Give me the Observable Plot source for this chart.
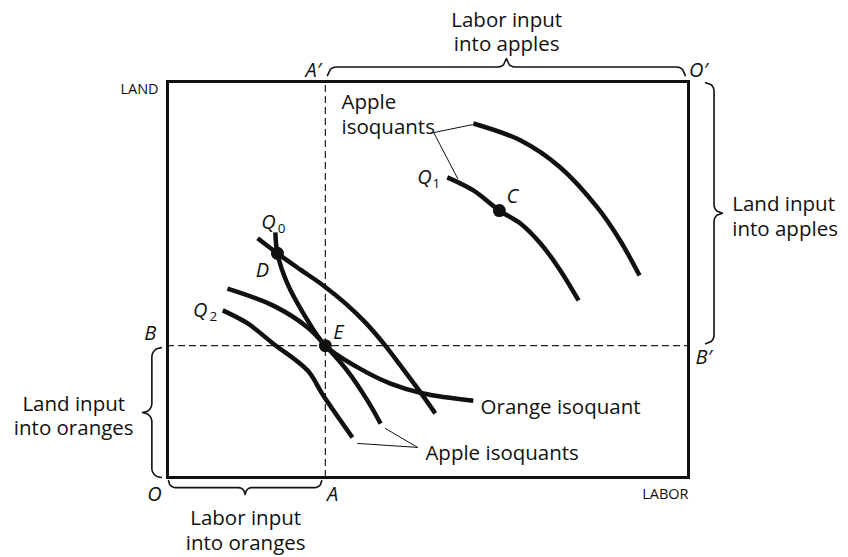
<!DOCTYPE html>
<html><head><meta charset="utf-8">
<script src="https://cdn.jsdelivr.net/npm/d3@7"></script>
<script src="https://cdn.jsdelivr.net/npm/@observablehq/plot@0.6"></script>
<style>body{margin:0;background:#fff}</style>
</head><body><div id="chart"></div>
<script>
// ---- data (labor on x, land on y, Edgeworth box 0..100 each) ----
const totalLabor = 100;
const totalLand = 100;
const laborOranges = 30.3;   // point A / E
const landOranges = 33.3;    // point B / E

const orangeIsoquant = [[20.7,61.9],[21.1,56.6],[23.0,49.0],[26.1,41.4],[30.3,33.3],[36.5,27.8],[42.8,23.7],[49.1,21.2],[58.7,19.4]];
const appleThroughD = [[17.3,60.4],[21.1,56.6],[25.5,52.5],[29.9,48.5],[34.2,43.9],[38.0,39.1],[41.5,33.8],[44.7,28.3],[48.0,22.5],[51.4,16.2]];
const appleThroughE = [[11.5,47.7],[20.3,43.4],[26.9,37.9],[30.3,33.3],[34.5,27.0],[38.4,19.4],[40.9,13.6]];
const appleQ2 = [[10.6,42.2],[15.4,38.9],[20.3,33.8],[26.9,27.0],[29.9,20.7],[35.5,10.1]];
const appleQ1 = [[53.7,75.8],[58.7,72.5],[63.7,67.4],[67.8,64.1],[71.6,59.1],[75.4,52.3],[78.9,44.7]];
const appleUpper = [[58.7,89.4],[67.8,85.1],[75.4,78.3],[82.5,68.2],[86.9,59.8],[90.6,51.0]];

const points = [
  {name:"D", x:21.1, y:56.6},
  {name:"E", x:laborOranges, y:landOranges},
  {name:"C", x:63.7, y:67.4}
];

const topLeaders = [[[51.1,87.1],[58.5,89.1]], [[51.1,87.1],[55.7,75.5]]];
const bottomLeaders = [[[36.5,8.6],[48.0,7.6]], [[41.8,12.4],[48.0,7.6]]];

const plainLabels = [
  {text:"Labor input\ninto apples", x:65.1, y:112.7, anchor:"middle"},
  {text:"Apple\nisoquants", x:33.4, y:91.9, anchor:"start"},
  {text:"Land input\ninto apples", x:108.4, y:66.2, anchor:"start"},
  {text:"Land input\ninto oranges", x:-18.0, y:15.8, anchor:"middle"},
  {text:"Orange isoquant", x:60.1, y:17.9, anchor:"start"},
  {text:"Apple isoquants", x:49.5, y:6.3, anchor:"start"},
  {text:"Labor input\ninto oranges", x:15.0, y:-13.1, anchor:"middle"}
];
const smallCaps = [
  {text:"LAND", x:-1.7, y:98.0},
  {text:"LABOR", x:100, y:-4.3}
];
const letterLabels = [
  {text:"A′", x:28.0, y:102.8}, {text:"O′", x:101.9, y:102.8},
  {text:"B", x:-3.3, y:36.4}, {text:"B′", x:102.9, y:30.3},
  {text:"O", x:-2.5, y:-4.3}, {text:"A", x:31.7, y:-4.3},
  {text:"D", x:18.2, y:52.3}, {text:"E", x:32.8, y:36.6}, {text:"C", x:66.2, y:71.0},
  {text:"Q", x:19.4, y:64.4}, {text:"Q", x:49.3, y:75.8}, {text:"Q", x:6.3, y:42.2}
];
const subscripts = [
  {text:"0", x:21.9, y:62.9}, {text:"1", x:51.6, y:74.2}, {text:"2", x:8.8, y:40.7}
];

// braces: span (u0..u1) along an axis, base level and tip level across it
const braces = [
  {id:"top", axis:"x", u0:laborOranges+0.4, u1:totalLabor-0.6, base:101.5, tip:105.8},
  {id:"bottom", axis:"x", u0:0.2, u1:laborOranges-0.7, base:-0.8, tip:-4.3},
  {id:"left", axis:"y", u0:0, u1:landOranges-0.5, base:-1.2, tip:-4.8},
  {id:"right", axis:"y", u0:landOranges+0.5, u1:totalLand-0.3, base:103.3, tip:106.5}
];

// ---- layout ----
const W = 848, H = 557, mL = 167, mR = 160, mT = 81, mB = 80;
const kx = (W - mL - mR) / totalLabor, ky = (H - mT - mB) / totalLand;
const font = "'Open Sans', sans-serif";

function braceRows(b) {
  const n = 120, rows = [];
  const Lpx = Math.abs(b.u1 - b.u0) * (b.axis === "x" ? kx : ky);
  const Dpx = Math.abs(b.tip - b.base) * (b.axis === "x" ? ky : kx);
  const a = Math.min(0.2, (Dpx / 2) / Lpx);
  for (let i = 0; i <= n; i++) {
    const t = i / n, s = t <= 0.5 ? t : 1 - t;
    let f;
    if (s < a) { const q = 1 - s / a; f = 0.5 * Math.sqrt(Math.max(0, 1 - q * q)); }
    else if (s < 0.5 - a) f = 0.5;
    else { const q = (s - (0.5 - a)) / a; f = 0.5 + 0.5 * (1 - Math.sqrt(Math.max(0, 1 - q * q))); }
    const u = b.u0 + (b.u1 - b.u0) * t, v = b.base + (b.tip - b.base) * f;
    rows.push(b.axis === "x" ? {id:b.id, x:u, y:v} : {id:b.id, x:v, y:u});
  }
  return rows;
}

const curveRows = [
  ["orange", orangeIsoquant], ["appleD", appleThroughD], ["appleE", appleThroughE],
  ["q2", appleQ2], ["q1", appleQ1], ["upper", appleUpper]
].flatMap(([name, pts]) => pts.map(([x, y]) => ({name, x, y})));
const leaderRows = [...topLeaders, ...bottomLeaders].flatMap((seg, i) => seg.map(([x, y]) => ({id:i, x, y})));
const allBraceRows = braces.flatMap(braceRows);

const labelMark = anchor => Plot.text(plainLabels.filter(d => d.anchor === anchor),
  {x: "x", y: "y", text: "text", textAnchor: anchor, lineHeight: 1.2, fontSize: 20.5, fill: "#111"});

const chart = Plot.plot({
  width: W, height: H,
  marginLeft: mL, marginRight: mR, marginTop: mT, marginBottom: mB,
  x: {domain: [0, totalLabor], axis: null},
  y: {domain: [0, totalLand], axis: null},
  style: {fontFamily: font, background: "white", overflow: "visible"},
  marks: [
    Plot.ruleX([laborOranges], {y1: 0, y2: totalLand, stroke: "#222", strokeWidth: 1.2, strokeDasharray: "7,4"}),
    Plot.ruleY([landOranges], {x1: 0, x2: totalLabor, stroke: "#222", strokeWidth: 1.2, strokeDasharray: "7,4"}),
    Plot.frame({stroke: "#111", strokeWidth: 3}),
    Plot.line(curveRows, {x: "x", y: "y", z: "name", curve: "catmull-rom", stroke: "#111", strokeWidth: 4.5, strokeLinecap: "butt"}),
    Plot.line(leaderRows, {x: "x", y: "y", z: "id", stroke: "#111", strokeWidth: 1}),
    Plot.line(allBraceRows, {x: "x", y: "y", z: "id", stroke: "#111", strokeWidth: 1.6}),
    Plot.dot(points, {x: "x", y: "y", r: 6.5, fill: "#111"}),
    labelMark("start"), labelMark("middle"),
    Plot.text(smallCaps, {x: "x", y: "y", text: "text", textAnchor: "end", fontSize: 14.5, fill: "#111"}),
    Plot.text(letterLabels, {x: "x", y: "y", text: "text", fontSize: 20, fontStyle: "italic", fill: "#111"}),
    Plot.text(subscripts, {x: "x", y: "y", text: "text", fontSize: 13.5, fill: "#111"})
  ]
});
document.getElementById("chart").appendChild(chart);
</script>
</body></html>
